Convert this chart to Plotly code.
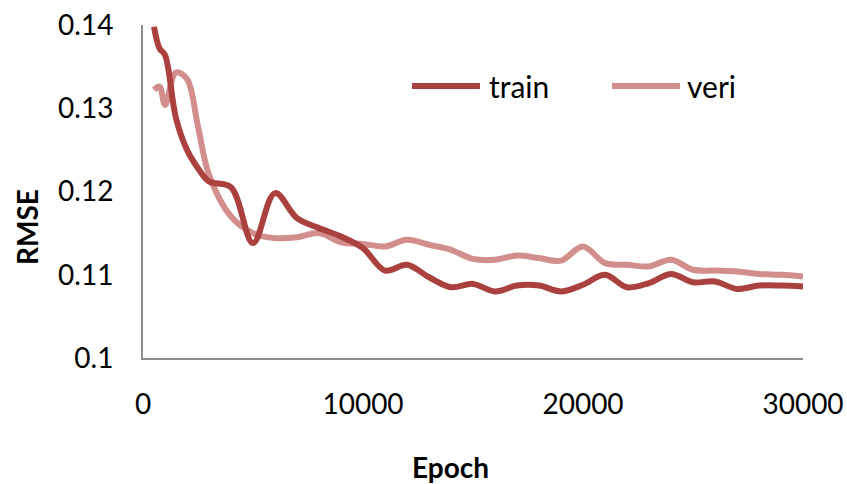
import plotly.graph_objects as go

# Epochs at which RMSE was recorded
epochs = [500, 750, 1000, 1500, 2000, 2500, 3000] + list(range(4000, 30001, 1000))

train_rmse = [0.1398, 0.1372, 0.1364, 0.1288, 0.1250, 0.1228, 0.1212,
              0.1205, 0.1138, 0.1198, 0.1168, 0.1156, 0.1146, 0.1132,
              0.1105, 0.1112, 0.1097, 0.1085, 0.1089, 0.1080, 0.1087,
              0.1087, 0.1080, 0.1088, 0.1100, 0.1085, 0.1090, 0.1101,
              0.1091, 0.1092, 0.1083, 0.1087, 0.1087, 0.1086]

veri_rmse = [0.1322, 0.1326, 0.1304, 0.1343, 0.1335, 0.1278, 0.1220,
             0.1170, 0.1150, 0.1144, 0.1145, 0.1150, 0.1139, 0.1137,
             0.1134, 0.1142, 0.1136, 0.1130, 0.1119, 0.1118, 0.1123,
             0.1120, 0.1117, 0.1134, 0.1114, 0.1112, 0.1110, 0.1118,
             0.1106, 0.1105, 0.1104, 0.1101, 0.1100, 0.1098]

x_ticks = [0, 10000, 20000, 30000]
y_ticks = [0.1, 0.11, 0.12, 0.13, 0.14]
y_tick_text = ["0.1", "0.11", "0.12", "0.13", "0.14"]

TRAIN_COLOR = "#AA413E"
VERI_COLOR = "#D28E8C"
AXIS_COLOR = "#8C8C8C"
FONT = "Lato"

fig = go.Figure()
fig.add_trace(go.Scatter(x=epochs, y=veri_rmse, mode="lines", name="veri",
                         line=dict(color=VERI_COLOR, width=6, shape="spline", smoothing=1.0)))
fig.add_trace(go.Scatter(x=epochs, y=train_rmse, mode="lines", name="train",
                         line=dict(color=TRAIN_COLOR, width=6, shape="spline", smoothing=1.0)))

# Legend drawn as line samples with labels
legend_items = [("train", TRAIN_COLOR, 0.4076, 0.5106, 0.5212),
                ("veri", VERI_COLOR, 0.7106, 0.8136, 0.8212)]
shapes = []
annotations = []
for label, color, x0, x1, xt in legend_items:
    shapes.append(dict(type="line", xref="paper", yref="paper", x0=x0, x1=x1,
                       y0=0.8168, y1=0.8168, line=dict(color=color, width=6)))
    annotations.append(dict(text=label, xref="paper", yref="paper", x=xt, y=0.8168,
                            xanchor="left", yanchor="middle", showarrow=False,
                            font=dict(family=FONT, size=30, color="#000000")))

annotations.append(dict(text="<b>RMSE</b>", xref="paper", yref="paper",
                        x=(27 - 143) / 660, y=(358 - 227) / 333, textangle=-90,
                        xanchor="center", yanchor="middle", showarrow=False,
                        font=dict(family=FONT, size=28, color="#000000")))
annotations.append(dict(text="<b>Epoch</b>", xref="paper", yref="paper",
                        x=(450 - 143) / 660, y=(358 - 467) / 333,
                        xanchor="center", yanchor="middle", showarrow=False,
                        font=dict(family=FONT, size=28, color="#000000")))

fig.update_layout(
    width=847, height=484,
    margin=dict(l=143, r=44, t=25, b=126),
    paper_bgcolor="white", plot_bgcolor="white",
    showlegend=False,
    font=dict(family=FONT, size=28, color="#000000"),
    shapes=shapes, annotations=annotations,
    xaxis=dict(range=[0, 30000], tickvals=x_ticks, ticktext=[str(v) for v in x_ticks],
               showgrid=False, zeroline=False, showline=True, linecolor=AXIS_COLOR,
               linewidth=2, ticks="", ticklabelstandoff=20, automargin=False,
               tickfont=dict(family=FONT, size=28, color="#000000")),
    yaxis=dict(range=[0.1, 0.14], tickvals=y_ticks, ticktext=y_tick_text,
               showgrid=False, zeroline=False, showline=True, linecolor=AXIS_COLOR,
               linewidth=2, ticks="", ticklabelstandoff=22, automargin=False,
               tickfont=dict(family=FONT, size=28, color="#000000")),
)

fig.write_html("out.html")
